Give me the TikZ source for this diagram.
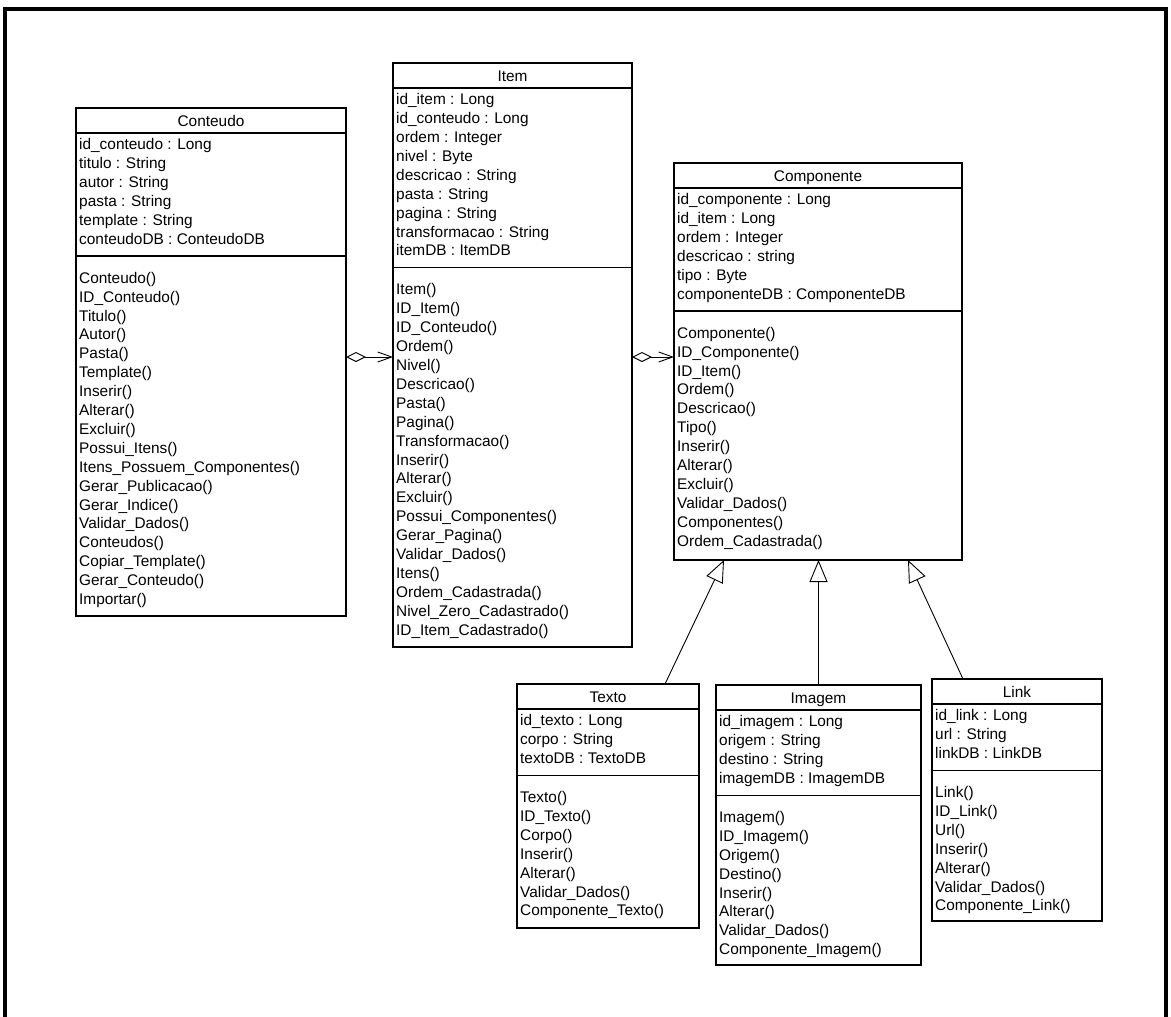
\documentclass[tikz,border=0pt]{standalone}
\usepackage{fontspec}
\setmainfont{Liberation Sans}
\usetikzlibrary{arrows.meta,calc}
\tikzset{
  clsbox/.style={draw, line width=1.4pt, inner sep=0pt, outer sep=0pt, fill=white},
  seprule/.style={line width=1.2pt},
  row/.style={inner sep=0pt, anchor=base west, font=\fontsize{15.4}{18.9}\selectfont},
  clstitle/.style={inner sep=0pt, anchor=base, font=\fontsize{15.4}{18.9}\selectfont},
  agg/.style={line width=0.9pt, {Diamond[open,length=20pt,width=10pt]}-{Straight Barb[length=14pt,width=10pt]}},
  gen/.style={line width=0.9pt, -{Triangle[open,length=22pt,width=18pt]}}
}
\newcommand\umlclass[9]{%
  % #1 name #2 L #3 T #4 R #5 B #6 title #7 nattr #8 attrs #9 methods
  \pgfmathsetmacro\clsW{#4-#2}%
  \pgfmathsetmacro\clsH{#5-#3}%
  \pgfmathsetmacro\clsHy{#3+25}%
  \pgfmathsetmacro\clsSy{#3+25+11.5+(#7-1)*18.9+17}%
  \node[clsbox, minimum width=\clsW pt, minimum height=\clsH pt, anchor=north west] (#1) at (#2,#3) {};
  \node[clstitle] (#1-t) at ({(#2+#4)/2},{#3+18}) {#6};
  \draw[seprule] (#2,\clsHy) -- (#4,\clsHy);
  \draw[seprule] (#2,\clsSy) -- (#4,\clsSy);
  \foreach \t [count=\i from 0] in {#8} {\node[row] (#1-a\i) at ({#2+3},{\clsHy+16.7+\i*18.9}) {\t};}
  \foreach \t [count=\i from 0] in {#9} {\node[row] (#1-m\i) at ({#2+3},{\clsSy+27.2+\i*18.9}) {\t};}
}
\begin{document}
\begin{tikzpicture}[x=1pt,y=-1pt]
\useasboundingbox (0,0) rectangle (1171,1017);
\draw[line width=3.4pt] (5,1020) -- (5,9) -- (1166,9) -- (1166,1020);

\umlclass{conteudo}{76}{108}{346}{616}{Conteudo}{6}%
 {id\_conteudo : Long, titulo : String, autor : String, pasta : String, template : String, conteudoDB : ConteudoDB}%
 {Conteudo(), ID\_Conteudo(), Titulo(), Autor(), Pasta(), Template(), Inserir(), Alterar(), Excluir(), Possui\_Itens(), Itens\_Possuem\_Componentes(), Gerar\_Publicacao(), Gerar\_Indice(), Validar\_Dados(), Conteudos(), Copiar\_Template(), Gerar\_Conteudo(), Importar()}

\umlclass{item}{393}{63}{632}{647}{Item}{9}%
 {id\_item : Long, id\_conteudo : Long, ordem : Integer, nivel : Byte, descricao : String, pasta : String, pagina : String, transformacao : String, itemDB : ItemDB}%
 {Item(), ID\_Item(), ID\_Conteudo(), Ordem(), Nivel(), Descricao(), Pasta(), Pagina(), Transformacao(), Inserir(), Alterar(), Excluir(), Possui\_Componentes(), Gerar\_Pagina(), Validar\_Dados(), Itens(), Ordem\_Cadastrada(), Nivel\_Zero\_Cadastrado(), ID\_Item\_Cadastrado()}

\umlclass{componente}{674}{163}{962}{560}{Componente}{6}%
 {id\_componente : Long, id\_item : Long, ordem : Integer, descricao : string, tipo : Byte, componenteDB : ComponenteDB}%
 {Componente(), ID\_Componente(), ID\_Item(), Ordem(), Descricao(), Tipo(), Inserir(), Alterar(), Excluir(), Validar\_Dados(), Componentes(), Ordem\_Cadastrada()}

\umlclass{texto}{517}{684}{699}{928}{Texto}{3}%
 {id\_texto : Long, corpo : String, textoDB : TextoDB}%
 {Texto(), ID\_Texto(), Corpo(), Inserir(), Alterar(), Validar\_Dados(), Componente\_Texto()}

\umlclass{imagem}{716}{685}{921}{965}{Imagem}{4}%
 {id\_imagem : Long, origem : String, destino : String, imagemDB : ImagemDB}%
 {Imagem(), ID\_Imagem(), Origem(), Destino(), Inserir(), Alterar(), Validar\_Dados(), Componente\_Imagem()}

\umlclass{link}{932}{679}{1102}{921}{Link}{3}%
 {id\_link : Long, url : String, linkDB : LinkDB}%
 {Link(), ID\_Link(), Url(), Inserir(), Alterar(), Validar\_Dados(), Componente\_Link()}

\draw[agg] ($(conteudo.north east)+(0,249)$) -- ($(item.north west)+(0,294)$);
\draw[agg] ($(item.north east)+(0,294)$) -- ($(componente.north west)+(0,194)$);

\draw[gen] ($(texto.north west)+(148,0)$) -- ($(componente.south west)+(50,0)$);
\draw[gen] (imagem.north) -- (imagem.north |- componente.south);
\draw[gen] ($(link.north west)+(31,0)$) -- ($(componente.south west)+(234,0)$);
\end{tikzpicture}
\end{document}
